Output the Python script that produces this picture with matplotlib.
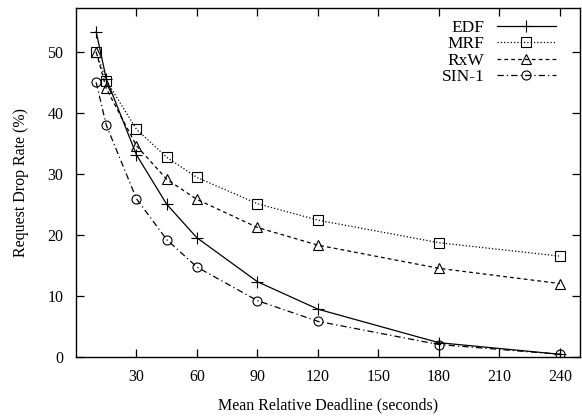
import matplotlib
matplotlib.use("Agg")
import matplotlib.pyplot as plt

# ---- data -----------------------------------------------------------------------------
deadline = [10, 15, 30, 45, 60, 90, 120, 180, 240]
edf  = [53.3, 45.6, 33.1, 25.0, 19.5, 12.3, 7.8, 2.3, 0.4]
mrf  = [50.0, 45.3, 37.3, 32.7, 29.4, 25.1, 22.4, 18.7, 16.5]
rxw  = [50.0, 44.0, 34.6, 29.1, 25.8, 21.2, 18.3, 14.5, 12.0]
sin1 = [45.0, 38.0, 25.9, 19.2, 14.7, 9.2, 5.8, 2.0, 0.4]

xticks = [30, 60, 90, 120, 150, 180, 210, 240]
yticks = [0, 10, 20, 30, 40, 50]

plt.rcParams.update({"font.family": "Liberation Serif", "font.size": 11.5})
fig = plt.figure(figsize=(5.82, 4.16), dpi=100)
ax = fig.add_axes([0.1306, 0.1425, 0.866, 0.8383])

mk = dict(color="black", lw=0.9, mfc="none", mec="black", mew=0.8)
ax.plot(deadline, edf, "-", marker="+", ms=9, label="EDF", **mk)
ax.plot(deadline, mrf, ":", marker="s", ms=6.5, label="MRF", **mk)
ax.plot(deadline, rxw, "--", marker="^", ms=6.5, label="RxW", dashes=(3, 2.5), **mk)
ax.plot(deadline, sin1, "-.", marker="o", ms=6.5, label="SIN-1", dashes=(5, 2.5, 1, 2.5), **mk)

ax.set_xlim(0, 250)
ax.set_ylim(0, 57.2)
ax.set_xticks(xticks)
ax.set_yticks(yticks)
ax.tick_params(direction="in", length=6, width=0.9, top=True, right=True, labelsize=11.5)
ax.tick_params(axis="x", pad=9)
ax.tick_params(axis="y", pad=9)
for s in ax.spines.values():
    s.set_linewidth(1.0)

ax.set_xlabel("Mean Relative Deadline (seconds)", fontsize=11.5, labelpad=9)
ax.set_ylabel("Request Drop Rate (%)", fontsize=11.5, labelpad=13)

ax.legend(loc="upper right", bbox_to_anchor=(0.976, 1.0), frameon=False, markerfirst=False,
          handlelength=3.4, fontsize=12.5, labelspacing=0.0, borderaxespad=0.3,
          handletextpad=0.7)

fig.savefig("out.png", dpi=100)
